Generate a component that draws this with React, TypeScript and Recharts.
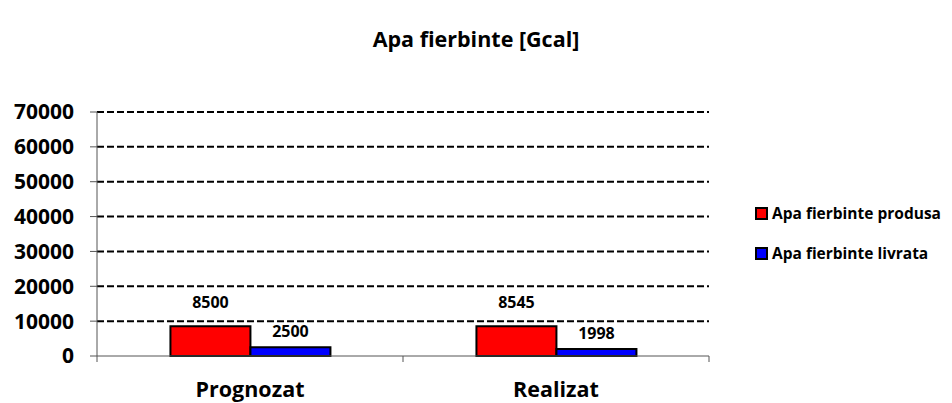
import React from 'react';
import { BarChart, Bar, XAxis, YAxis, ReferenceLine, LabelList } from 'recharts';

const categories = ['Prognozat', 'Realizat'];
const produsa = [8500, 8545];
const livrata = [2500, 1998];
const yTicks = [0, 10000, 20000, 30000, 40000, 50000, 60000, 70000];
const seriesNames = ['Apa fierbinte produsa', 'Apa fierbinte livrata'];
const seriesColors = ['#FF0000', '#0000FF'];

const data = categories.map((c, i) => ({ name: c, produsa: produsa[i], livrata: livrata[i] }));

const W = 952;
const H = 403;
const MARGIN = { top: 112, right: 243, bottom: 17, left: 0 };
const YAXIS_W = 97;
const PLOT_W = W - MARGIN.right - MARGIN.left - YAXIS_W;
const BAND = PLOT_W / categories.length;
const FONT = '"Open Sans", Lato, sans-serif';

const CatTick = (props: any) => {
  const { x, y, payload, index } = props;
  const axisY = y - 8;
  return (
    <g>
      <line x1={x - BAND / 2} x2={x - BAND / 2} y1={axisY} y2={axisY + 6} stroke="#555" />
      {index === categories.length - 1 && (
        <line x1={x + BAND / 2} x2={x + BAND / 2} y1={axisY} y2={axisY + 6} stroke="#555" />
      )}
      <text x={x} y={axisY + 41} textAnchor="middle" fontFamily={FONT} fontWeight="bold" fontSize={21.5} fill="#000">
        {payload.value}
      </text>
    </g>
  );
};

const LegendBox = () => (
  <div style={{ position: 'absolute', left: 755, top: 203, fontFamily: FONT, fontWeight: 'bold', fontSize: 15.5, color: '#000' }}>
    {seriesNames.map((n, i) => (
      <div key={n} style={{ display: 'flex', alignItems: 'center', height: 20, marginBottom: i === 0 ? 20 : 0, whiteSpace: 'nowrap' }}>
        <span style={{ display: 'inline-block', width: 9, height: 9, border: '2px solid #000', background: seriesColors[i], marginRight: 4 }} />
        <span>{n}</span>
      </div>
    ))}
  </div>
);

export default function App() {
  return (
    <div style={{ position: 'absolute', left: 0, top: 0, width: W, height: H, background: '#fff' }}>
      <div style={{ position: 'absolute', left: 0, top: 24, width: W, textAlign: 'center', fontFamily: FONT, fontWeight: 'bold', fontSize: 21.5, lineHeight: '30px', color: '#000' }}>
        Apa fierbinte [Gcal]
      </div>
      <BarChart width={W} height={H} data={data} margin={MARGIN} barGap={0} barCategoryGap="24%">
        {yTicks.filter((v) => v > 0).map((v) => (
          <ReferenceLine key={v} y={v} stroke="#000" strokeWidth={2} strokeDasharray="7 3" />
        ))}
        <XAxis dataKey="name" axisLine={{ stroke: '#555' }} tickLine={false} tick={<CatTick />} interval={0} />
        <YAxis
          width={YAXIS_W}
          domain={[0, 70000]}
          ticks={yTicks}
          interval={0}
          tickSize={7}
          tickMargin={16}
          axisLine={{ stroke: '#555' }}
          tickLine={{ stroke: '#555' }}
          tick={{ fill: '#000', fontFamily: FONT, fontWeight: 'bold', fontSize: 21 }}
        />
        <Bar dataKey="produsa" name={seriesNames[0]} fill={seriesColors[0]} stroke="#000" strokeWidth={2} isAnimationActive={false}>
          <LabelList dataKey="produsa" position="top" offset={18} fill="#000" fontFamily={FONT} fontWeight="bold" fontSize={16} />
        </Bar>
        <Bar dataKey="livrata" name={seriesNames[1]} fill={seriesColors[1]} stroke="#000" strokeWidth={2} isAnimationActive={false}>
          <LabelList dataKey="livrata" position="top" offset={10} fill="#000" fontFamily={FONT} fontWeight="bold" fontSize={16} />
        </Bar>
      </BarChart>
      <LegendBox />
    </div>
  );
}
